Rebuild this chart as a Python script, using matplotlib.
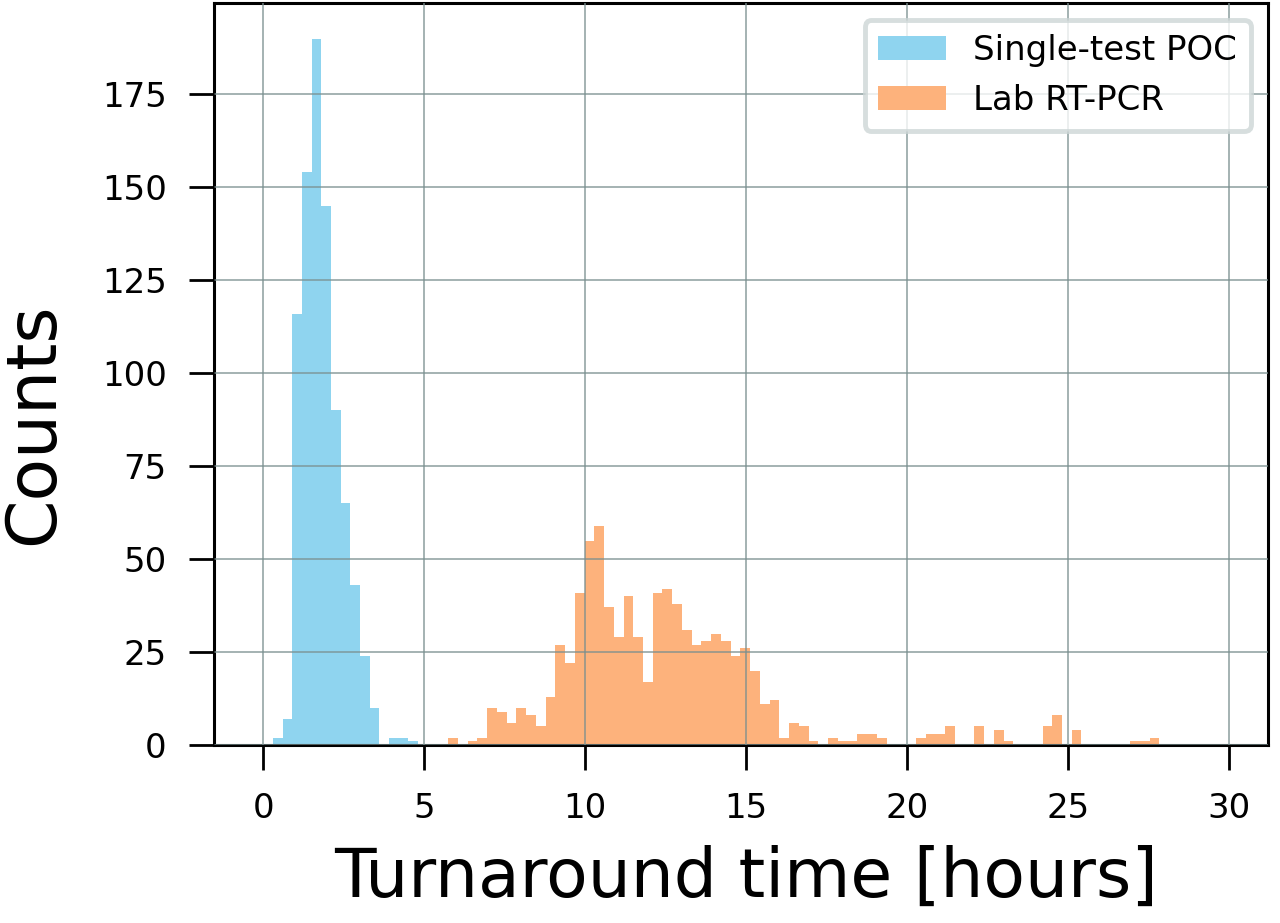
import numpy as np
import matplotlib
matplotlib.use('Agg')
import matplotlib.pyplot as plt

# histogram counts
poc_start = 0.3
poc_width = 0.3
poc_counts = [2, 7, 116, 154, 190, 145, 90, 65, 43, 24, 10, 0, 2, 2, 1]

lab_start = 5.74
lab_width = 0.3026
lab_counts = [2, 0, 1, 2, 10, 9, 6, 10, 8, 5,
              13, 27, 22, 41, 55, 59, 37, 29, 40, 29,
              17, 41, 42, 38, 31, 27, 28, 30, 28, 24,
              26, 20, 11, 12, 2, 6, 5, 1, 0, 2,
              1, 1, 3, 3, 2, 0, 0, 0, 2, 3,
              3, 5, 0, 0, 5, 0, 4, 1, 0, 0,
              0, 5, 8, 0, 4, 0, 0, 0, 0, 0,
              1, 1, 2]

labels = ['Single-test POC', 'Lab RT-PCR']
x_ticks = [0, 5, 10, 15, 20, 25, 30]
y_ticks = [0, 25, 50, 75, 100, 125, 150, 175]

poc_edges = poc_start + poc_width * np.arange(len(poc_counts) + 1)
lab_edges = lab_start + lab_width * np.arange(len(lab_counts) + 1)

fig = plt.figure(figsize=(12.8, 9.23), dpi=100)
ax = fig.add_axes([0.1672, 0.1928, 0.8234, 0.8036])

ax.hist(poc_edges[:-1], bins=poc_edges, weights=poc_counts,
        color='#8fd4ef', label=labels[0])
ax.hist(lab_edges[:-1], bins=lab_edges, weights=lab_counts,
        color='#fdb27c', label=labels[1])

ax.set_xlim(-1.53, 31.2)
ax.set_ylim(0, 199.5)
ax.set_xticks(x_ticks)
ax.set_yticks(y_ticks)

ax.set_axisbelow(False)
ax.grid(True, color='#7a8f8f', linewidth=1.2, alpha=0.8)

for sp in ax.spines.values():
    sp.set_linewidth(2.2)
ax.tick_params(axis='both', labelsize=24.5, length=18, width=2, pad=16)

ax.set_xlabel('Turnaround time [hours]', fontsize=49)
ax.set_ylabel('Counts', fontsize=50)
ax.xaxis.set_label_coords(0.505, -0.135)
ax.yaxis.set_label_coords(-0.139, 0.433)

leg = ax.legend(loc='upper right', fontsize=24.5, framealpha=0.8,
                borderaxespad=0.5)
leg.get_frame().set_edgecolor('#cdd6d6')
leg.get_frame().set_linewidth(3.5)

fig.savefig('out.png', dpi=100)
